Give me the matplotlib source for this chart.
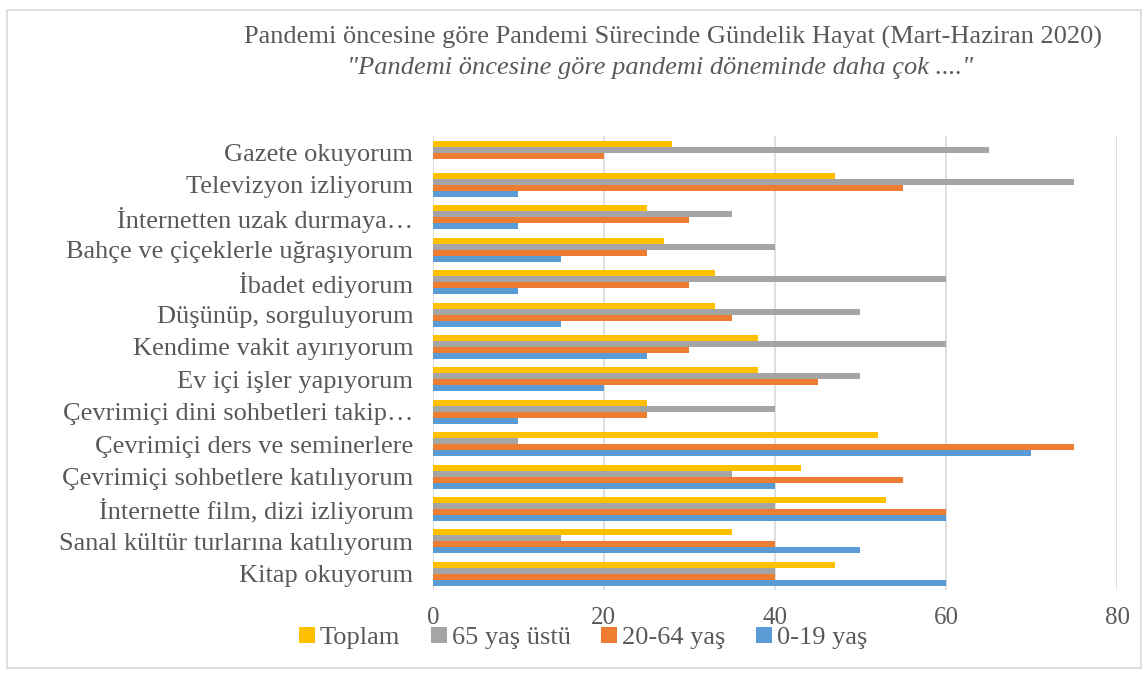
import numpy as np
import matplotlib.pyplot as plt
from matplotlib.patches import Rectangle

plt.rcParams["font.family"] = ["Liberation Serif", "DejaVu Serif"]

kategoriler = [
    "Gazete okuyorum",
    "Televizyon izliyorum",
    "İnternetten uzak durmaya…",
    "Bahçe ve çiçeklerle uğraşıyorum",
    "İbadet ediyorum",
    "Düşünüp, sorguluyorum",
    "Kendime vakit ayırıyorum",
    "Ev içi işler yapıyorum",
    "Çevrimiçi dini sohbetleri takip…",
    "Çevrimiçi ders ve seminerlere",
    "Çevrimiçi sohbetlere katılıyorum",
    "İnternette film, dizi izliyorum",
    "Sanal kültür turlarına katılıyorum",
    "Kitap okuyorum",
]

toplam = [28, 47, 25, 27, 33, 33, 38, 38, 25, 52, 43, 53, 35, 47]
yas_65_ustu = [65, 75, 35, 40, 60, 50, 60, 50, 40, 10, 35, 40, 15, 40]
yas_20_64 = [20, 55, 30, 25, 30, 35, 30, 45, 25, 75, 55, 60, 40, 40]
yas_0_19 = [0, 10, 10, 15, 10, 15, 25, 20, 10, 70, 40, 60, 50, 60]

seriler = [
    ("Toplam", toplam, "#FFC000"),
    ("65 yaş üstü", yas_65_ustu, "#A5A5A5"),
    ("20-64 yaş", yas_20_64, "#ED7D31"),
    ("0-19 yaş", yas_0_19, "#5B9BD5"),
]

fig = plt.figure(figsize=(11.48, 6.75), dpi=100)
ax = fig.add_axes([0.377, 0.126, 0.596, 0.672])

y = np.arange(len(kategoriler))
h = 0.185
for i, (ad, degerler, renk) in enumerate(seriler):
    ax.barh(y + (i - 1.5) * h, degerler, height=h, color=renk, label=ad)

ax.set_ylim(len(kategoriler) - 0.5, -0.5)
ax.set_xlim(0, 80)
ax.set_xticks([0, 20, 40, 60, 80])
ax.set_yticks(y)
ax.set_yticklabels(kategoriler, fontsize=19, color="#595959")
ax.tick_params(axis="x", labelsize=18, labelcolor="#595959", length=0, pad=12)
ax.tick_params(axis="y", length=0, pad=14)
ax.grid(axis="x", color="#d9d9d9", linewidth=1.2)
ax.set_axisbelow(True)
for s in ax.spines.values():
    s.set_visible(False)

fig.text(0.586, 0.944, "Pandemi öncesine göre Pandemi Sürecinde Gündelik Hayat (Mart-Haziran 2020)",
         ha="center", va="center", fontsize=19, color="#595959")
fig.text(0.575, 0.899, "\"Pandemi öncesine göre pandemi döneminde daha çok ....\"",
         ha="center", va="center", fontsize=19, color="#595959", style="italic")

fig.legend(loc="center", bbox_to_anchor=(0.508, 0.055), ncol=4, frameon=False,
           fontsize=19, labelcolor="#595959", handlelength=0.6, handleheight=0.6,
           handletextpad=0.2, columnspacing=1.15)

fig.patches.append(Rectangle((0.006, 0.01), 0.988, 0.975, transform=fig.transFigure,
                             fill=False, edgecolor="#d9d9d9", linewidth=1.2))

fig.savefig("out.png", dpi=100)
